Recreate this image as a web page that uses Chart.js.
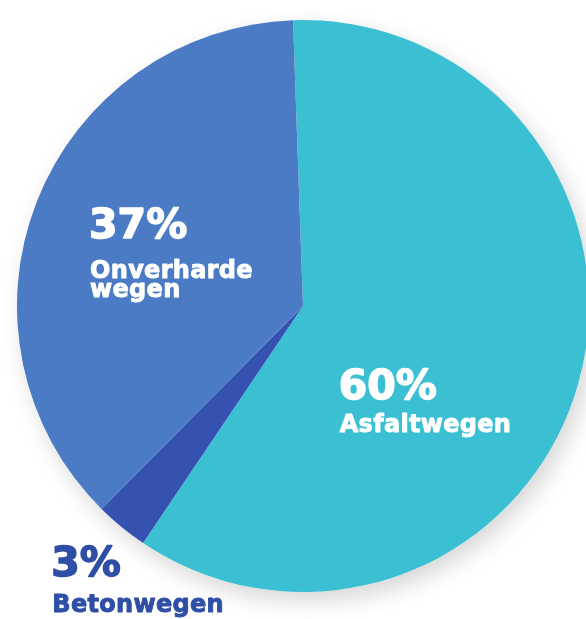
<!DOCTYPE html>
<html>
<head>
  <meta charset="utf-8">
  <title>Wegen</title>
  <script src="https://cdn.jsdelivr.net/npm/chart.js@4.4.0/dist/chart.umd.min.js"></script>
  <style>
    html, body { margin: 0; padding: 0; background: #fff; overflow: hidden; }
    #pie { display: block; }
  </style>
</head>
<body>
<canvas id="pie" width="600" height="619"></canvas>

<script>
  // data, in drawing order (clockwise from the top)
  const categories = ['Asfaltwegen', 'Betonwegen', 'Onverharde wegen'];
  const values = [60, 3, 37];
  const pctLabels = ['60%', '3%', '37%'];
  // how the name is broken over lines
  const nameLines = [['Asfaltwegen'], ['Betonwegen'], ['Onverharde', 'wegen']];

  const sliceColors = ['#3abfd3', '#3552b1', '#4a7bc4'];
  const textColors = ['#ffffff', '#2f4fa7', '#ffffff'];

  // label anchors, offsets from the pie centre as a fraction of the radius
  // x = left edge of text, y = baseline of the percentage
  const labelPos = [
    { x: 0.125, y: 0.325, gap: 33 },
    { x: -0.880, y: 0.944, gap: 36 },
    { x: -0.748, y: -0.238, gap: 40 }
  ];

  const pieShadow = {
    id: 'pieShadow',
    beforeDatasetsDraw(chart) {
      const arc = chart.getDatasetMeta(0).data[0];
      if (!arc) return;
      const ctx = chart.ctx;
      ctx.save();
      ctx.shadowColor = 'rgba(0,0,0,0.16)';
      ctx.shadowBlur = 22;
      ctx.shadowOffsetX = 6;
      ctx.shadowOffsetY = 9;
      ctx.fillStyle = '#ffffff';
      ctx.beginPath();
      ctx.arc(arc.x, arc.y, arc.outerRadius, 0, Math.PI * 2);
      ctx.fill();
      ctx.restore();
    }
  };

  // bold text, a bit heavier by stroking it in the same colour
  function heavyText(ctx, text, x, y, weight) {
    ctx.lineWidth = weight;
    ctx.lineJoin = 'round';
    ctx.strokeText(text, x, y);
    ctx.fillText(text, x, y);
  }

  const sliceText = {
    id: 'sliceText',
    afterDatasetsDraw(chart) {
      const meta = chart.getDatasetMeta(0);
      const ctx = chart.ctx;
      ctx.save();
      ctx.textAlign = 'left';
      ctx.textBaseline = 'alphabetic';
      meta.data.forEach(function (arc, i) {
        const r = arc.outerRadius;
        const x = arc.x + labelPos[i].x * r;
        let y = arc.y + labelPos[i].y * r;
        ctx.fillStyle = textColors[i];
        ctx.strokeStyle = textColors[i];
        ctx.font = 'bold 41px "DejaVu Sans"';
        ctx.letterSpacing = '0px';
        heavyText(ctx, pctLabels[i], x, y, 1.6);
        ctx.font = 'bold 24px "DejaVu Sans"';
        ctx.letterSpacing = '0.3px';
        y += labelPos[i].gap;
        nameLines[i].forEach(function (line) {
          heavyText(ctx, line, x + 1, y, 0.9);
          y += 19;
        });
      });
      ctx.restore();
    }
  };

  const ctx = document.getElementById('pie');

  const pieChart = new Chart(ctx, {
    type: 'pie',
    data: {
      labels: categories,
      datasets: [{
        data: values,
        backgroundColor: sliceColors,
        borderWidth: 0
      }]
    },
    options: {
      responsive: false,
      animation: false,
      rotation: -2,
      layout: {
        padding: { left: 17, right: 11, top: 19, bottom: 26 }
      },
      plugins: {
        legend: { display: false },
        tooltip: { enabled: false }
      }
    },
    plugins: [pieShadow, sliceText]
  });
</script>
</body>
</html>
